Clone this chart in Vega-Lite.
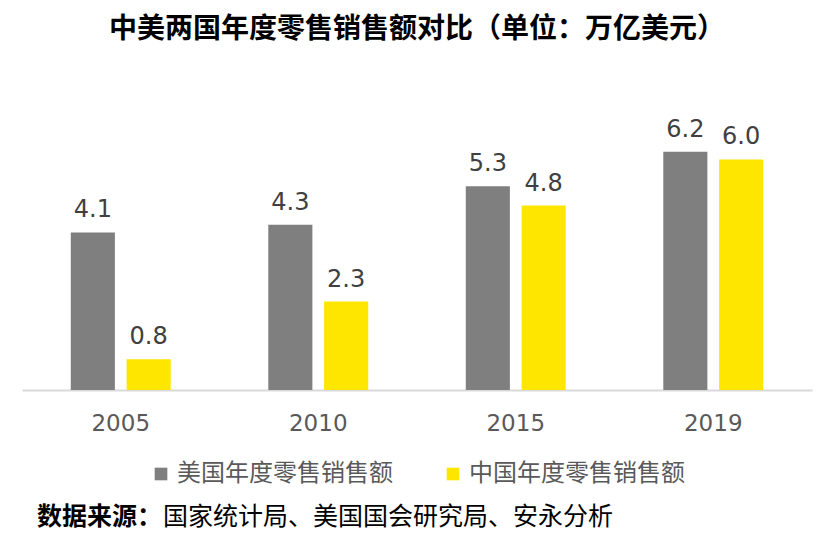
{
  "$schema": "https://vega.github.io/schema/vega-lite/v6.json",
  "background": "white",
  "padding": {"left": 22, "right": 22, "top": 15, "bottom": 10},
  "title": {
    "text": "中美两国年度零售销售额对比（单位：万亿美元）",
    "font": "Noto Sans CJK SC",
    "fontSize": 28,
    "fontWeight": "bold",
    "color": "#000000",
    "anchor": "middle",
    "offset": 74
  },
  "spacing": 19,
  "resolve": {"legend": {"color": "independent"}},
  "vconcat": [
    {
      "width": 790,
      "height": 269,
      "data": {
        "values": [
          {"year": "2005", "series": "美国年度零售销售额", "value": 4.1},
          {"year": "2005", "series": "中国年度零售销售额", "value": 0.8},
          {"year": "2010", "series": "美国年度零售销售额", "value": 4.3},
          {"year": "2010", "series": "中国年度零售销售额", "value": 2.3},
          {"year": "2015", "series": "美国年度零售销售额", "value": 5.3},
          {"year": "2015", "series": "中国年度零售销售额", "value": 4.8},
          {"year": "2019", "series": "美国年度零售销售额", "value": 6.2},
          {"year": "2019", "series": "中国年度零售销售额", "value": 6.0}
        ]
      },
      "encoding": {
        "x": {
          "field": "year",
          "type": "nominal",
          "title": null,
          "scale": {"paddingInner": 0.494, "paddingOuter": 0.247},
          "axis": {
            "labelAngle": 0,
            "labelFont": "DejaVu Sans",
            "labelFontSize": 23,
            "labelColor": "#595959",
            "labelPadding": 22,
            "ticks": false,
            "domainColor": "#D9D9D9",
            "domainWidth": 2,
            "grid": false
          }
        },
        "xOffset": {
          "field": "series",
          "type": "nominal",
          "sort": ["美国年度零售销售额", "中国年度零售销售额"],
          "scale": {"paddingInner": 0.21, "paddingOuter": 0}
        },
        "y": {
          "field": "value",
          "type": "quantitative",
          "scale": {"domain": [0, 7]},
          "axis": null
        }
      },
      "layer": [
        {
          "mark": {"type": "bar"},
          "encoding": {
            "color": {
              "field": "series",
              "type": "nominal",
              "sort": ["美国年度零售销售额", "中国年度零售销售额"],
              "scale": {
                "domain": ["美国年度零售销售额", "中国年度零售销售额"],
                "range": ["#7F7F7F", "#FFE600"]
              },
              "legend": {
                "orient": "bottom",
                "direction": "horizontal",
                "title": null,
                "symbolType": "square",
                "symbolSize": 160,
                "symbolStrokeWidth": 0,
                "labelFont": "Noto Sans CJK SC",
                "labelFontSize": 24,
                "labelColor": "#595959",
                "labelLimit": 0,
                "columnPadding": 48,
                "offset": 27
              }
            }
          }
        },
        {
          "mark": {
            "type": "text",
            "baseline": "bottom",
            "dy": -10,
            "font": "DejaVu Sans",
            "fontSize": 24,
            "color": "#404040"
          },
          "encoding": {
            "text": {"field": "value", "type": "quantitative", "format": ".1f"}
          }
        }
      ]
    },
    {
      "spacing": 0,
      "hconcat": [
        {
          "width": 125,
          "height": 0,
          "data": {"values": []},
          "mark": "point",
          "title": {
            "text": "数据来源：",
            "font": "Noto Sans CJK SC",
            "fontSize": 25,
            "fontWeight": "bold",
            "color": "#000000",
            "anchor": "start",
            "dx": 15,
            "offset": 0
          }
        },
        {
          "width": 460,
          "height": 0,
          "data": {"values": []},
          "mark": "point",
          "title": {
            "text": "国家统计局、美国国会研究局、安永分析",
            "font": "Noto Sans CJK SC",
            "fontSize": 25,
            "fontWeight": "normal",
            "color": "#000000",
            "anchor": "start",
            "offset": 0
          }
        }
      ]
    }
  ],
  "config": {
    "view": {"stroke": null},
    "legend": {"layout": {"bottom": {"anchor": "middle"}}}
  }
}
